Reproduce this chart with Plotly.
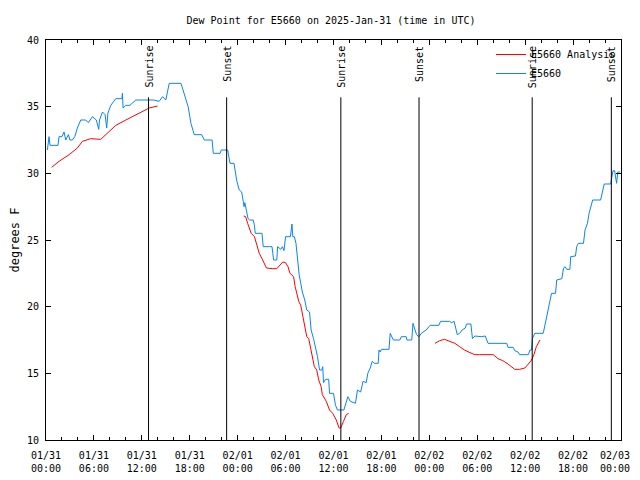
import pandas as pd
import plotly.graph_objects as go

START = pd.Timestamp("2025-01-31 00:00")

# Station observations (hours after 01/31 00:00 UTC, degrees F)
obs_hours = [0.17, 0.38, 0.5, 0.8, 1.5, 1.63, 2.0, 2.26, 2.47, 2.8, 3.0, 3.3, 3.6, 3.93, 4.35, 4.98, 5.3, 5.81,
             6.3, 6.6, 6.7, 7.07, 7.4, 7.6, 7.75, 8.11, 8.4, 8.74, 9.5, 9.57, 9.65, 10.0, 10.5, 11.0, 11.25, 12.0,
             12.92, 13.5, 14.17, 14.6, 15.0, 15.43, 16.9, 17.1, 17.52, 17.8, 18.15, 18.56, 19.5, 19.82, 20.8,
             20.95, 21.8, 21.95, 22.75, 22.87, 23.04, 23.54, 23.7, 23.9, 24.2, 24.5, 24.7, 24.8, 24.9, 25.1, 25.3,
             25.5, 25.95, 26.1, 26.2, 27.05, 27.2, 28.0, 28.3, 28.4, 28.5, 28.9, 29.0, 29.4, 29.6, 29.8, 30.0,
             30.6, 30.8, 30.9, 31.1, 31.3, 31.5, 31.7, 31.9, 32.1, 32.4, 32.65, 33.0, 33.2, 33.5, 33.75, 34.0,
             34.25, 34.55, 34.65, 34.75, 35.0, 35.4, 35.5, 36.0, 36.25, 36.5, 37.3, 37.6, 37.8, 38.1, 38.75,
             39.0, 39.4, 39.7, 40.1, 40.3, 40.6, 40.85, 41.15, 41.6, 41.7, 41.85, 42.0, 42.95, 43.1, 43.5, 44.3,
             44.5, 45.1, 45.2, 45.8, 45.95, 46.2, 46.4, 46.7, 47.0, 47.6, 48.1, 49.2, 49.4, 50.5, 50.8, 51.1,
             51.3, 51.5, 51.8, 52.1, 52.5, 52.65, 53.2, 53.3, 53.4, 53.7, 54.5, 55.0, 55.2, 55.35, 57.7, 57.85,
             58.5, 58.7, 59.1, 59.3, 60.4, 60.6, 60.8, 60.9, 61.2, 62.25, 62.35, 62.6, 62.9, 63.1, 63.3, 63.8,
             63.95, 64.6, 64.8, 65.0, 65.2, 65.6, 65.7, 66.3, 66.45, 66.65, 67.3, 67.5, 67.8, 68.0, 68.3, 68.45,
             69.45, 69.6, 69.9, 70.7, 70.8, 71.0, 71.2, 71.3, 71.45, 71.6, 71.9]
obs_values = [31.75, 32.75, 32.1, 32.1, 32.1, 32.75, 32.75, 33.1, 32.5, 32.9, 32.5, 32.5, 32.75, 33.4, 34.0, 34.0,
              33.8, 34.25, 34.0, 33.3, 34.0, 34.6, 34.4, 33.4, 34.5, 35.1, 35.3, 35.6, 35.6, 36.0, 34.9, 35.1,
              35.1, 35.4, 35.5, 35.5, 35.5, 35.5, 35.4, 35.75, 35.5, 36.75, 36.75, 36.4, 35.6, 35.0, 33.75, 32.9,
              32.9, 32.5, 32.5, 31.5, 31.5, 31.75, 31.75, 31.25, 30.75, 30.75, 30.0, 29.4, 28.75, 28.6, 27.9,
              27.5, 27.8, 27.2, 26.6, 26.5, 26.5, 26.1, 25.5, 25.5, 24.5, 24.5, 24.5, 24.0, 23.5, 23.5, 24.5,
              24.3, 24.5, 24.2, 25.25, 25.25, 26.2, 25.25, 25.25, 24.75, 23.25, 22.4, 21.75, 21.1, 20.5, 19.75,
              19.6, 18.25, 17.6, 16.9, 16.25, 15.25, 15.25, 15.5, 14.3, 14.55, 14.55, 13.5, 13.5, 12.6, 12.25,
              12.25, 12.9, 13.25, 12.9, 12.75, 13.75, 13.6, 14.4, 14.3, 15.0, 15.4, 15.9, 15.75, 15.75, 16.75,
              16.6, 16.8, 16.8, 18.0, 17.5, 17.5, 17.75, 17.75, 17.5, 17.5, 18.75, 18.2, 17.9, 17.75, 18.0,
              18.25, 18.6, 18.6, 18.9, 18.9, 18.8, 18.9, 18.25, 17.9, 18.0, 18.25, 18.4, 18.7, 18.7, 18.0, 17.6,
              17.8, 17.75, 17.8, 17.5, 17.25, 17.25, 16.95, 16.95, 16.7, 16.6, 16.4, 16.4, 16.75, 16.75, 17.6,
              18.0, 18.0, 18.25, 19.0, 19.75, 20.25, 21.0, 21.0, 22.0, 22.1, 22.9, 23.0, 22.8, 22.8, 23.75,
              23.8, 24.5, 24.75, 24.75, 25.75, 26.25, 27.0, 27.75, 28.0, 28.0, 28.5, 29.2, 29.2, 29.5, 30.2,
              30.2, 29.8, 29.25, 30.1, 30.1]

# Analysis (None marks gaps)
ana_hours = [0.71, 1.63, 2.89, 3.93, 4.56, 5.6, 6.86, 7.69, 8.74, 10.0, 11.25, 12.1, 12.92, 13.97, 19.0,
             24.75, 25.0, 25.25, 25.5, 25.7, 26.1, 26.4, 26.7, 27.05, 27.35, 27.6, 28.4, 28.9, 29.2, 29.65, 30.0,
             30.3, 30.55, 31.0, 31.2, 31.4, 31.65, 31.9, 32.15, 32.4, 32.65, 32.9, 33.1, 33.3, 33.6, 33.9, 34.15,
             34.45, 34.6, 35.1, 35.5, 35.9, 36.35, 36.7, 36.9, 37.25, 37.6, 37.9, 43.0,
             48.7, 49.3, 49.9, 50.55, 51.2, 51.8, 52.4, 53.1, 53.7, 54.3, 56.0, 56.6, 57.2, 57.85, 58.7, 59.3,
             59.96, 60.4, 60.8, 61.1, 61.4, 61.85]
ana_values = [30.45, 30.9, 31.4, 31.9, 32.4, 32.6, 32.55, 33.0, 33.6, 34.0, 34.4, 34.7, 34.9, 35.05, None,
              26.8, 26.75, 26.25, 25.9, 25.5, 25.25, 24.6, 24.0, 23.6, 23.25, 22.9, 22.85, 22.85, 23.05, 23.35,
              23.3, 23.0, 22.5, 22.25, 21.5, 20.9, 20.4, 20.1, 19.25, 18.4, 17.75, 17.6, 17.0, 16.4, 15.5, 15.25,
              14.5, 14.0, 13.4, 12.9, 12.25, 12.0, 11.5, 10.9, 10.9, 11.4, 11.9, 12.0, None,
              17.25, 17.45, 17.55, 17.4, 17.25, 17.0, 16.75, 16.55, 16.4, 16.4, 16.4, 16.1, 15.95, 15.7, 15.3,
              15.3, 15.4, 15.7, 16.0, 16.4, 17.0, 17.5]

# Sunrise / sunset markers
event_hours = [12.84, 22.62, 36.92, 46.71, 60.88, 70.79]
event_labels = ["Sunrise", "Sunset", "Sunrise", "Sunset", "Sunrise", "Sunset"]
event_top = 35.7

# X tick positions (hours) and labels
tick_hours = [0, 6, 12, 18, 24, 30, 36, 42, 48, 54, 60, 66, 72]
tick_labels = ["01/31<br>00:00", "01/31<br>06:00", "01/31<br>12:00", "01/31<br>18:00",
               "02/01<br>00:00", "02/01<br>06:00", "02/01<br>12:00", "02/01<br>18:00",
               "02/02<br>00:00", "02/02<br>06:00", "02/02<br>12:00", "02/02<br>18:00",
               "02/03<br>00:00"]


def to_time(hours):
    return [START + pd.Timedelta(hours=h) for h in hours]


FONT = "DejaVu Sans Mono"
fig = go.Figure()
fig.add_trace(go.Scatter(x=to_time(ana_hours), y=ana_values, mode="lines", name="E5660 Analysis",
                         line=dict(color="#ff0000", width=1), connectgaps=False))
fig.add_trace(go.Scatter(x=to_time(obs_hours), y=obs_values, mode="lines", name="E5660",
                         line=dict(color="#0a84f0", width=1)))

for h, lab in zip(event_hours, event_labels):
    t = START + pd.Timedelta(hours=h)
    fig.add_shape(type="line", xref="x", yref="y", x0=t, x1=t, y0=10, y1=event_top,
                  line=dict(color="black", width=1))
    fig.add_annotation(x=t, xref="x", y=1, yref="paper", yanchor="top", yshift=-4,
                       text=lab, textangle=-90, showarrow=False,
                       font=dict(family=FONT, size=10, color="black"))

# last tick label drawn right-anchored so it is not cut at the page edge
tick_times = to_time(tick_hours)
fig.add_annotation(x=tick_times[-1], xref="x", y=0, yref="paper", yanchor="top", xanchor="right",
                   xshift=11, yshift=-8, text=tick_labels[-1], showarrow=False,
                   font=dict(family=FONT, size=10, color="black"))

# The page body has an 8px margin, so the figure is offset accordingly.
W, H = 624, 472
fig.update_layout(
    width=W, height=H,
    margin=dict(l=38, r=11, t=32, b=40),
    paper_bgcolor="white", plot_bgcolor="white",
    font=dict(family=FONT, size=10, color="black"),
    title=dict(text="Dew Point for E5660 on 2025-Jan-31 (time in UTC)", x=(331 - 8) / W, xref="container",
               xanchor="center", y=1 - 12 / H, yref="container", yanchor="middle",
               font=dict(family=FONT, size=10)),
    legend=dict(x=1, y=1, xanchor="right", yanchor="top", bgcolor="rgba(0,0,0,0)",
                font=dict(family=FONT, size=10), tracegroupgap=0),
    showlegend=True,
)
fig.update_xaxes(
    range=[START, START + pd.Timedelta(hours=72)], type="date", automargin=False,
    tickmode="array", tickvals=tick_times, ticktext=tick_labels[:-1] + [""],
    ticklabelstandoff=6,
    ticks="inside", ticklen=5, tickcolor="black", showline=True, linecolor="black", linewidth=1,
    mirror="ticks", showgrid=False, zeroline=False,
    minor=dict(ticks="inside", ticklen=3, dtick=2 * 3600 * 1000, tick0=START, tickcolor="black",
               showgrid=False),
)
fig.update_yaxes(
    range=[10, 40], dtick=5, ticks="inside", ticklen=5, tickcolor="black", automargin=False,
    showline=True, linecolor="black", linewidth=1, mirror="ticks", showgrid=False, zeroline=False,
    ticklabelstandoff=4,
    title=dict(text="degrees F", standoff=11),
)

fig.write_html("out.html")
